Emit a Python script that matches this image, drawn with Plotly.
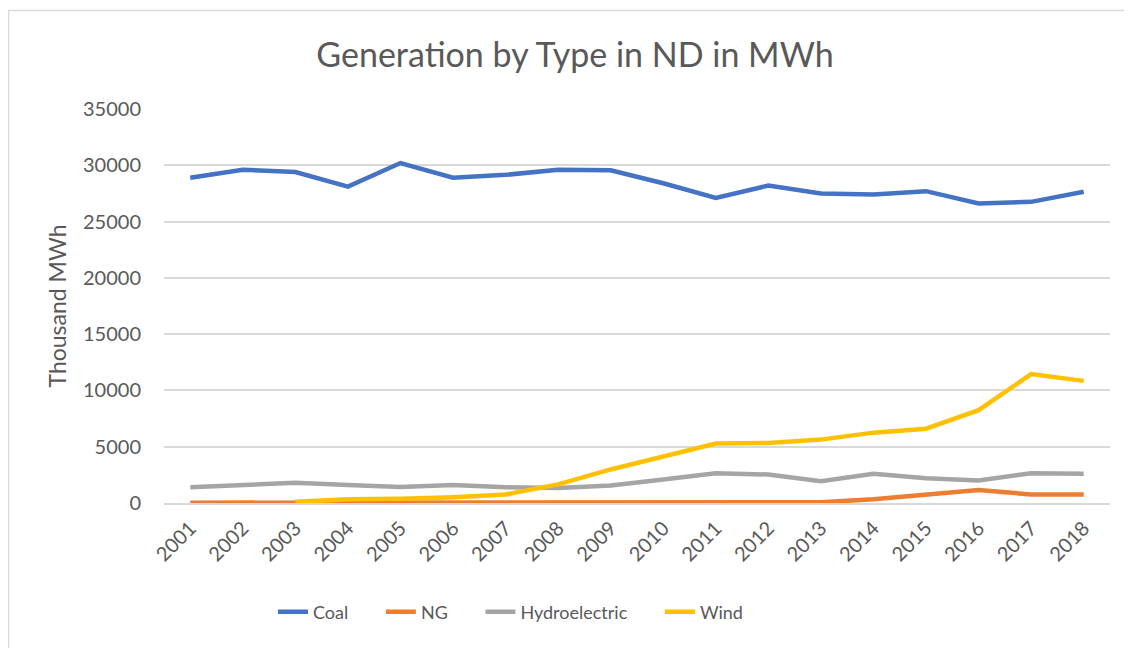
import plotly.graph_objects as go

years = [str(y) for y in range(2001, 2019)]
coal = [28900, 29600, 29400, 28100, 30200, 28900, 29150, 29600, 29550, 28400,
        27100, 28200, 27500, 27400, 27700, 26600, 26750, 27650]
ng = [30, 30, 30, 30, 30, 30, 30, 30, 30, 30,
      30, 40, 60, 330, 780, 1150, 760, 760]
hydro = [1400, 1650, 1800, 1600, 1420, 1600, 1400, 1330, 1560, 2080,
         2650, 2530, 1930, 2600, 2200, 2000, 2650, 2600]
wind = [None, None, 100, 330, 380, 520, 760, 1650, 2980, 4150,
        5280, 5330, 5630, 6250, 6600, 8250, 11450, 10850]

NB = "\u00a0"
series = [("Coal" + NB * 6, coal, "#4472C4"), ("NG" + NB * 6, ng, "#ED7D31"),
          ("Hydroelectric" + NB * 6, hydro, "#A5A5A5"), ("Wind", wind, "#FFC000")]

FONT = "Lato"
TXT = "#595959"

# page offset of 8px (browser body margin)
OFF = 8
W, H = 1132 - OFF, 648 - OFF
L, T = 164 - OFF, 109 - OFF
PW, PH = 946, 394

fig = go.Figure()
for name, vals, col in series:
    fig.add_trace(go.Scatter(x=years, y=vals, name=name, mode="lines",
                             line=dict(color=col, width=4.5, shape="linear"),
                             connectgaps=False))

fig.update_layout(
    width=W, height=H,
    margin=dict(l=L, r=W - L - PW, t=T, b=H - T - PH, autoexpand=False),
    paper_bgcolor="white", plot_bgcolor="white",
    font=dict(family=FONT, color=TXT, size=20),
    title=dict(text="Generation by Type in ND in MWh", x=(575 - OFF) / W, xanchor="center",
               xref="container", y=1 - (55 - OFF) / H, yref="container", yanchor="middle",
               font=dict(size=34, color=TXT, family=FONT)),
    showlegend=True,
    legend=dict(orientation="h", x=(273 - 164) / PW, xanchor="left", y=(503 - 612) / PH,
                yanchor="middle",
                font=dict(size=18, color=TXT, family=FONT),
                traceorder="normal"),
    xaxis=dict(type="category", range=[-0.5, 17.5], showgrid=False,
               showline=True, linecolor="#D9D9D9", linewidth=1.5,
               tickangle=-45, tickfont=dict(size=20, color=TXT),
               ticks="", ticklabelstandoff=4, zeroline=False),
    yaxis=dict(range=[0, 35000], dtick=5000, showgrid=True, gridcolor="#D9D9D9",
               gridwidth=1.5, zeroline=False, showline=False, ticks="",
               tickformat="d", tickfont=dict(size=20, color=TXT),
               ticklabelstandoff=22,
               title=dict(text="Thousand MWh", font=dict(size=23, color=TXT), standoff=9)),
    shapes=[
        dict(type="line", xref="paper", yref="paper", x0=(8 - 164) / PW, x1=(1140 - 164) / PW,
             y0=(503 - 10.5) / PH, y1=(503 - 10.5) / PH, line=dict(color="#D9D9D9", width=1.5)),
        dict(type="line", xref="paper", yref="paper", x0=(8.5 - 164) / PW, x1=(8.5 - 164) / PW,
             y0=(503 - 10.5) / PH, y1=(503 - 660) / PH, line=dict(color="#D9D9D9", width=1.5)),
    ],
)

fig.write_html("out.html")
